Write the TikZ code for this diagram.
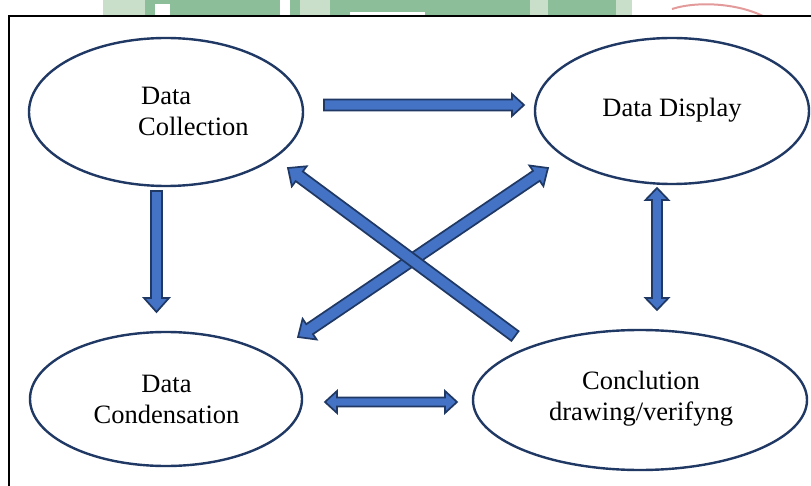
\documentclass[tikz,border=0pt]{standalone}
\usepackage{fontspec}
\setmainfont{Liberation Serif}
\usetikzlibrary{shapes.geometric,calc}
\definecolor{navy}{HTML}{1F3864}
\definecolor{ablue}{HTML}{4472C4}
\definecolor{wmlight}{HTML}{C9DFC9}
\definecolor{wmgreen}{HTML}{8DBE9A}
\definecolor{wmred}{HTML}{E39A9A}
\newcommand\blockarrow[5]{% single block arrow from #1 to #2
  \coordinate (hb) at ($(#2)!#5!(#1)$);
  \draw[barrow] ($(#1)!#3!90:(#2)$) -- ($(hb)!#3!90:(#2)$) -- ($(hb)!#4!90:(#2)$) -- (#2)
    -- ($(hb)!#4!-90:(#2)$) -- ($(hb)!#3!-90:(#2)$) -- ($(#1)!#3!-90:(#2)$) -- cycle;
}
\newcommand\dblockarrow[5]{% double block arrow between #1 and #2
  \coordinate (ha) at ($(#1)!#5!(#2)$);
  \coordinate (hb) at ($(#2)!#5!(#1)$);
  \draw[barrow] (#1) -- ($(ha)!#4!90:(#2)$) -- ($(ha)!#3!90:(#2)$) -- ($(hb)!#3!90:(#2)$)
    -- ($(hb)!#4!90:(#2)$) -- (#2) -- ($(hb)!#4!-90:(#2)$) -- ($(hb)!#3!-90:(#2)$)
    -- ($(ha)!#3!-90:(#2)$) -- ($(ha)!#4!-90:(#2)$) -- cycle;
}
\begin{document}
\begin{tikzpicture}[x=1pt,y=-1pt,
  ell/.style={ellipse, draw=navy, line width=2.4pt, inner sep=0pt, fill=white},
  lbl/.style={font=\fontsize{26.5}{31}\selectfont, inner sep=0pt, text=black},
  barrow/.style={draw=navy, fill=ablue, line width=1.7pt, line join=miter}
]
\useasboundingbox (0,0) rectangle (811,486);
% faint watermark above the frame
\fill[wmlight] (103,0) rectangle (632,16);
\fill[wmgreen] (145,0) rectangle (300,16);
\fill[wmgreen] (330,0) rectangle (530,16);
\fill[wmgreen] (548,0) rectangle (616,16);
\fill[white] (155,4) rectangle (170,16);
\fill[white] (350,12) rectangle (425,16);
\fill[white] (280,0) rectangle (290,16);
\draw[wmred, line width=2pt] (672,9) .. controls (700,0) and (745,4) .. (770,20);
% frame
\fill[white] (9,16) rectangle (830,500);
\draw[line width=1.3pt] (9,500) -- (9,16) -- (830,16);
% ellipses
\node[ell, minimum width=274pt, minimum height=148pt] (dc) at (166,112) {};
\node[ell, minimum width=274pt, minimum height=146pt] (dd) at (672,111) {};
\node[ell, minimum width=272pt, minimum height=134pt] (dn) at (166,399) {};
\node[ell, minimum width=334pt, minimum height=140pt] (cv) at (640,400) {};
% texts
\node[lbl, align=left, anchor=west] (tdc) at (138,111) {\hspace*{3pt}Data\\Collection};
\node[lbl] (tdd) at (672,110) {Data Display};
\node[lbl, align=center] (tdn) at (166.5,399.5) {Data\\Condensation};
\node[lbl, align=center] (tcv) at (641,398.5) {Conclution\\drawing/verifyng};
% arrow end points
\coordinate (p1) at (324,105);   \coordinate (q1) at (524,105);
\coordinate (p2) at (156.5,191); \coordinate (q2) at (156.5,312);
\coordinate (p3) at (657,188);   \coordinate (q3) at (657,310);
\coordinate (p4) at (325,402);   \coordinate (q4) at (457,402);
\coordinate (p5) at (515,336);   \coordinate (q5) at (288,168);
\coordinate (p6) at (298,337);   \coordinate (q6) at (548,168);
% block arrows
\blockarrow{p1}{q1}{5.5pt}{11pt}{12pt}
\blockarrow{p2}{q2}{5.5pt}{12.5pt}{14pt}
\dblockarrow{p3}{q3}{5pt}{11.5pt}{12pt}
\dblockarrow{p4}{q4}{4.5pt}{11pt}{12pt}
\dblockarrow{p6}{q6}{6pt}{12.5pt}{14pt}
\blockarrow{p5}{q5}{6pt}{12.5pt}{14pt}
\end{tikzpicture}
\end{document}
